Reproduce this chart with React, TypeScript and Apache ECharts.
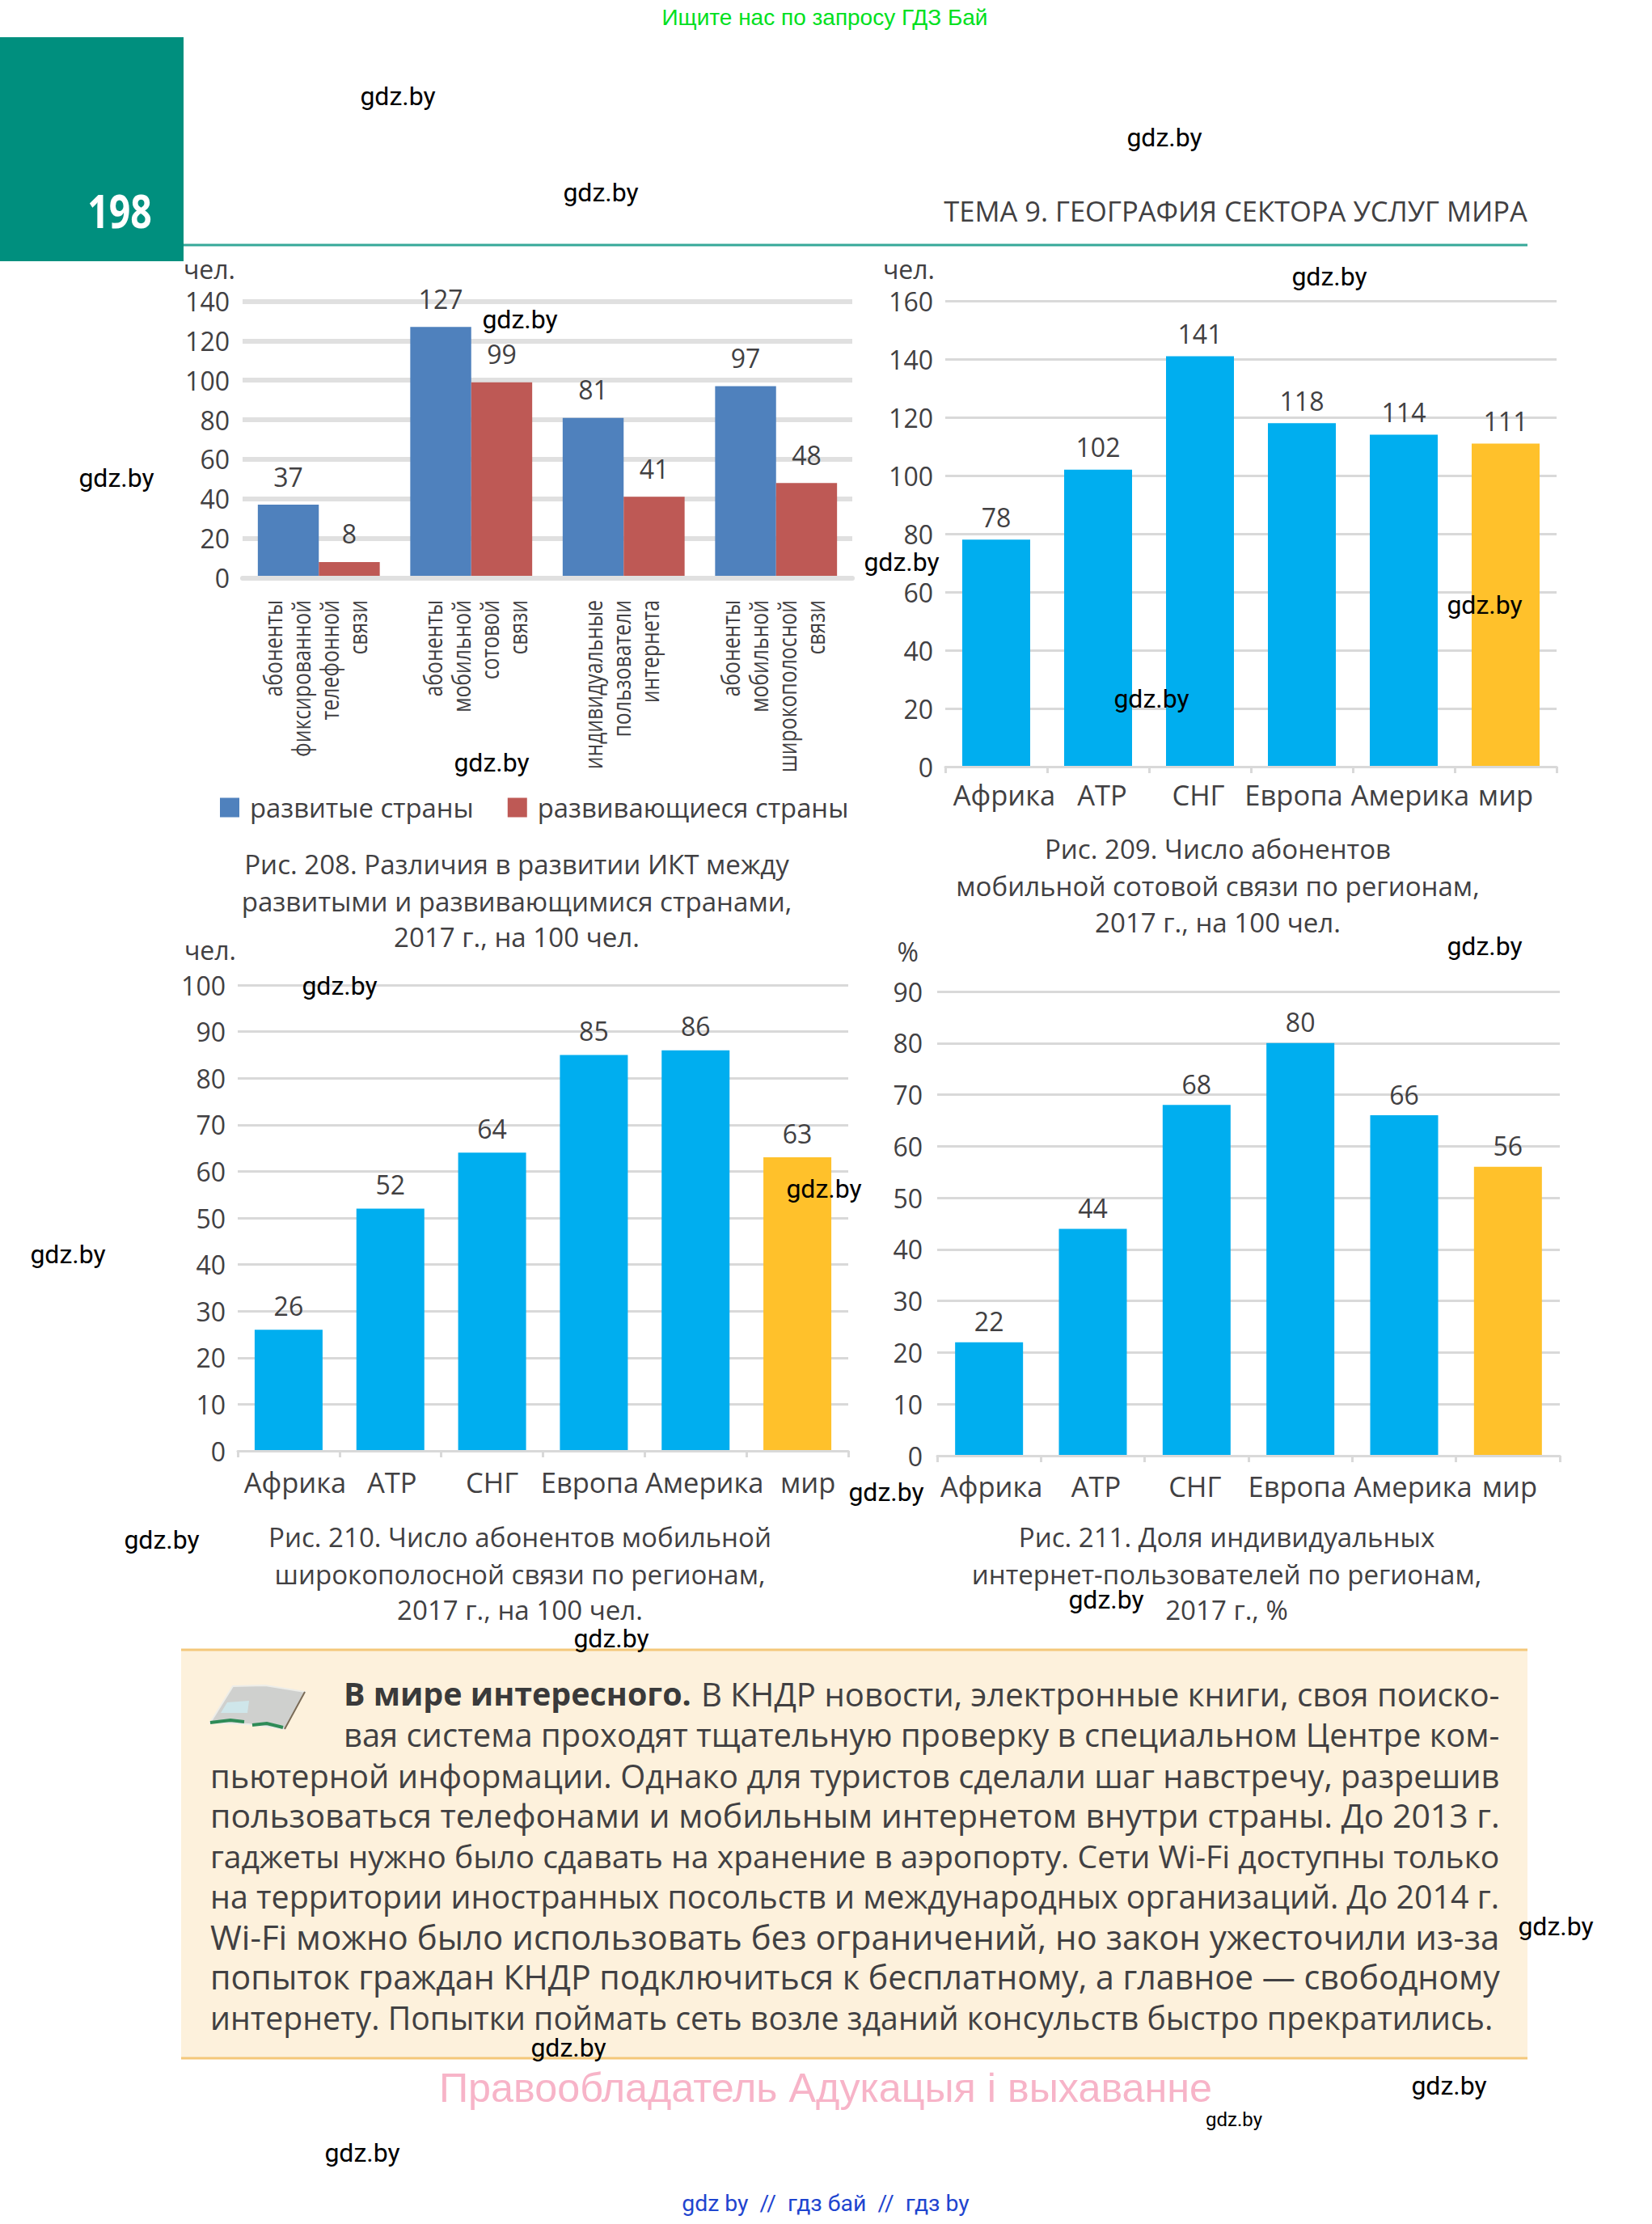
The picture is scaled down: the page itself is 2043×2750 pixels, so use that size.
import React, { useEffect, useRef } from "react";
import * as echarts from "echarts";

const FONT = "'Open Sans', sans-serif";
const INK = "#414042";
const ARIAL = "'Liberation Sans', sans-serif";
const ROBOTO = "'Roboto', sans-serif";

const ictCategories = [
  "абоненты\nфиксированной\nтелефонной\nсвязи",
  "абоненты\nмобильной\nсотовой\nсвязи",
  "индивидуальные\nпользователи\nинтернета",
  "абоненты\nмобильной\nширокополосной\nсвязи",
];
const developedValues = [37, 127, 81, 97];
const developingValues = [8, 99, 41, 48];
const regions = ["Африка", "АТР", "СНГ", "Европа", "Америка", "мир"];
const cellularValues = [78, 102, 141, 118, 114, 111];
const broadbandValues = [26, 52, 64, 85, 86, 63];
const internetValues = [22, 44, 68, 80, 66, 56];

const captions208 = ["Рис. 208. Различия в развитии ИКТ между", "развитыми и развивающимися странами,", "2017 г., на 100 чел."];
const captions209 = ["Рис. 209. Число абонентов", "мобильной сотовой связи по регионам,", "2017 г., на 100 чел."];
const captions210 = ["Рис. 210. Число абонентов мобильной", "широкополосной связи по регионам,", "2017 г., на 100 чел."];
const captions211 = ["Рис. 211. Доля индивидуальных", "интернет-пользователей по регионам,", "2017 г., %"];

const bodyLines = [
  "вая система проходят тщательную проверку в специальном Центре ком-",
  "пьютерной информации. Однако для туристов сделали шаг навстречу, разрешив",
  "пользоваться телефонами и мобильным интернетом внутри страны. До 2013 г.",
  "гаджеты нужно было сдавать на хранение в аэропорту. Сети Wi-Fi доступны только",
  "на территории иностранных посольств и международных организаций. До 2014 г.",
  "Wi-Fi можно было использовать без ограничений, но закон ужесточили из-за",
  "попыток граждан КНДР подключиться к бесплатному, а главное — свободному",
  "интернету. Попытки поймать сеть возле зданий консульств быстро прекратились.",
];

const watermarks: [number, number][] = [
  [492, 119], [1440, 170], [743, 238], [1644, 342], [643, 395], [144, 591], [1115, 695], [1836, 748],
  [1424, 864], [608, 943], [1836, 1170], [420, 1219], [1019, 1470], [84, 1551], [1096, 1845], [200, 1904],
  [1368, 1978], [756, 2026], [1924, 2382], [703, 2532], [1792, 2579], [448, 2662],
];

function fitSize(text: string, width: number, weight = "400") {
  const ctx = document.createElement("canvas").getContext("2d")!;
  ctx.font = `${weight} 100px 'Open Sans', sans-serif`;
  return (100 * width) / ctx.measureText(text).width;
}

function label(text: string, x: number, y: number, fontSize: number, extra: any = {}, el: any = {}) {
  return {
    type: "text", x, y, z: 20, ...el,
    style: { text, fontSize, fontFamily: FONT, fill: INK, align: "center", verticalAlign: "middle", ...extra },
  };
}

function regionSeries(values: number[], gridIndex: number, distance: number) {
  return {
    type: "bar",
    xAxisIndex: gridIndex,
    yAxisIndex: gridIndex,
    barWidth: 84,
    data: values.map((value, i) => ({
      value,
      itemStyle: { color: i === values.length - 1 ? "#FFC12B" : "#00AEEF" },
    })),
    label: { show: true, position: "top", distance, fontSize: 32, fontFamily: FONT, color: INK },
  };
}

function yAxisFor(gridIndex: number, max: number, interval: number, name: string, width: number, margin: number, nameGap: number, namePad: number) {
  return {
    type: "value", gridIndex, min: 0, max, interval,
    name,
    nameLocation: "end",
    nameGap,
    nameTextStyle: { fontSize: 32, fontFamily: FONT, color: INK, align: "right", padding: [0, namePad, 0, 0] },
    axisLine: { show: false },
    axisTick: { show: false },
    axisLabel: { margin, fontSize: 32, fontFamily: FONT, color: INK },
    splitLine: { show: true, lineStyle: { color: width > 3 ? "#E0E0E0" : "#D9D9D9", width } },
  };
}

function regionAxis(gridIndex: number, margin: number, shifts: number[]) {
  const rich: any = {};
  shifts.forEach((s, i) => {
    rich["s" + i] = {
      fontSize: 34.5, fontFamily: FONT, color: INK,
      padding: s > 0 ? [0, 0, 0, 2 * s] : [0, -2 * s, 0, 0],
    };
  });
  return {
    type: "category", gridIndex, data: regions, z: 3,
    axisLine: { show: true, lineStyle: { color: "#D9D9D9", width: 3 } },
    axisTick: { show: true, length: 8, lineStyle: { color: "#D9D9D9", width: 3 } },
    axisLabel: {
      margin, interval: 0, hideOverlap: false, rich,
      formatter: (value: string, i: number) => `{s${i}|${value}}`,
    },
  };
}

function buildGraphic() {
  const g: any[] = [];
  // page furniture
  g.push({ type: "rect", shape: { x: 0, y: 46, width: 227, height: 277 }, style: { fill: "#008F7E" }, z: 10 });
  g.push({ type: "line", shape: { x1: 227, y1: 303, x2: 1889, y2: 303 }, style: { stroke: "#36A899", lineWidth: 3 }, z: 10 });
  g.push(label("198", 148, 259, 58, { fill: "#FFFFFF", fontWeight: "bold" }, { originX: 0, scaleX: 0.8 }));
  g.push(label("ТЕМА 9. ГЕОГРАФИЯ СЕКТОРА УСЛУГ МИРА", 1528, 260, fitSize("ТЕМА 9. ГЕОГРАФИЯ СЕКТОРА УСЛУГ МИРА", 722)));
  g.push(label("Ищите нас по запросу ГДЗ Бай", 1020, 21, 28, { fill: "#00E01E", fontFamily: ARIAL }));

  // rotated category labels of the first chart, condensed as in the reference
  const centers = [389.5, 587, 768, 955];
  ictCategories.forEach((cat, c) => {
    const lines = cat.split("\n");
    lines.forEach((t, i) => {
      g.push(label(t, centers[c] + (i - (lines.length - 1) / 2) * 35, 742, 31, { align: "right" }, { rotation: Math.PI / 2, scaleX: 0.8 }));
    });
  });

  // captions
  const caps: [string[], number, number[]][] = [
    [captions208, 639, [1068, 1114, 1158]],
    [captions209, 1506, [1049, 1095, 1140]],
    [captions210, 643, [1900, 1946, 1990]],
    [captions211, 1517, [1900, 1946, 1990]],
  ];
  caps.forEach(([lines, x, ys]) => lines.forEach((t, i) => g.push(label(t, x, ys[i], 33.1))));

  // infobox
  g.push({ type: "rect", shape: { x: 224, y: 2040, width: 1665, height: 505 }, style: { fill: "#FDF1DC" }, z: 10 });
  g.push({ type: "line", shape: { x1: 224, y1: 2040, x2: 1889, y2: 2040 }, style: { stroke: "#F4C87A", lineWidth: 3 }, z: 11 });
  g.push({ type: "line", shape: { x1: 224, y1: 2545, x2: 1889, y2: 2545 }, style: { stroke: "#F4C87A", lineWidth: 3 }, z: 11 });

  // book icon
  g.push({ type: "polygon", shape: { points: [[260, 2130], [288, 2085], [328, 2084], [377, 2092], [352, 2138], [307, 2132]] }, style: { fill: "#CFD0CE", stroke: "#EDEDE8", lineWidth: 2 }, z: 12 });
  g.push({ type: "polygon", shape: { points: [[273, 2118], [281, 2105], [308, 2103], [306, 2118]] }, style: { fill: "#CFE6EA" }, z: 12 });
  g.push({ type: "line", shape: { x1: 377, y1: 2092, x2: 352, y2: 2138 }, style: { stroke: "#7A6A55", lineWidth: 2 }, z: 12 });
  g.push({ type: "polyline", shape: { points: [[260, 2130], [285, 2127], [302, 2129]] }, style: { stroke: "#2E8B57", lineWidth: 4, fill: "none" }, z: 12 });
  g.push({ type: "polyline", shape: { points: [[312, 2133], [330, 2131], [350, 2136]] }, style: { stroke: "#2E8B57", lineWidth: 4, fill: "none" }, z: 12 });

  const headBold = "В мире интересного.";
  const headRest = "В КНДР новости, электронные книги, своя поиско-";
  g.push({ type: "text", x: 425, y: 2094, z: 20, style: { text: headBold, fontSize: fitSize(headBold, 430, "700"), fontWeight: 700, fontFamily: FONT, fill: "#3A3A3A", align: "left", verticalAlign: "middle" } });
  g.push({ type: "text", x: 867, y: 2094, z: 20, style: { text: headRest, fontSize: fitSize(headRest, 988), fontFamily: FONT, fill: INK, align: "left", verticalAlign: "middle" } });
  const xs = [425, 260, 260, 260, 260, 260, 260, 260];
  const ys = [2144, 2195, 2244, 2294, 2345, 2394, 2444, 2494];
  bodyLines.forEach((t, i) => {
    const w = (i === 7 ? 1847 : 1855) - xs[i];
    g.push({ type: "text", x: xs[i], y: ys[i], z: 20, style: { text: t, fontSize: fitSize(t, w), fontFamily: FONT, fill: INK, align: "left", verticalAlign: "middle" } });
  });

  // footer
  g.push(label("Правообладатель Адукацыя і выхаванне", 1021, 2581, 50.3, { fill: "#F7B4C8", fontFamily: ARIAL }));
  g.push(label("gdz by  //  гдз бай  //  гдз by", 1021, 2724, 28.4, { fill: "#1F45CF", fontFamily: ROBOTO }));

  // watermarks
  watermarks.forEach(([x, y]) => g.push(label("gdz.by", x, y, 32, { fill: "#000000", fontFamily: ROBOTO })));
  g.push(label("gdz.by", 1526, 2621, 24, { fill: "#000000", fontFamily: ROBOTO }));
  return g;
}

export default function App() {
  const ref = useRef<HTMLDivElement>(null);
  useEffect(() => {
    document.body.style.margin = "0";
    const chart = echarts.init(ref.current!, undefined, { renderer: "svg" });
    const barLabel = { show: true, position: "top", distance: 19, fontSize: 32, fontFamily: FONT, color: INK };
    chart.setOption({
      animation: false,
      backgroundColor: "#FFFFFF",
      textStyle: { fontFamily: FONT },
      grid: [
        { left: 300, width: 754, top: 372.5, height: 342 },
        { left: 1169, width: 756, top: 372, height: 576 },
        { left: 294, width: 755, top: 1218, height: 576 },
        { left: 1159, width: 770, top: 1226, height: 574 },
      ],
      xAxis: [
        {
          type: "category", gridIndex: 0, data: ictCategories, z: 3,
          axisLine: { show: true, lineStyle: { color: "#E0E0E0", width: 6 } },
          axisTick: { show: false },
          axisLabel: { show: false },
        },
        regionAxis(1, 17, [10, 5, -2, -10, 8, 0]),
        regionAxis(2, 21, [8, 2, 0, -5, 11, 13]),
        regionAxis(3, 20, [3, 4, -2, -4, 11, 2]),
      ],
      yAxis: [
        yAxisFor(0, 140, 20, "чел.", 6, 16, 24, 9),
        yAxisFor(1, 160, 20, "чел.", 3, 15, 24, 13),
        yAxisFor(2, 100, 10, "чел.", 3, 15, 28, 2),
        yAxisFor(3, 90, 10, "%", 3, 18, 34, 23),
      ],
      legend: {
        left: 267, top: 977, itemWidth: 24, itemHeight: 24, itemGap: 42, icon: "rect",
        data: ["развитые страны", "развивающиеся страны"],
        textStyle: { fontSize: 32.8, fontFamily: FONT, color: INK, padding: [0, 0, 0, 8] },
      },
      series: [
        {
          name: "развитые страны", type: "bar", xAxisIndex: 0, yAxisIndex: 0,
          barCategoryGap: "20%", barGap: 0, data: developedValues,
          itemStyle: { color: "#4F81BD" }, label: barLabel,
        },
        {
          name: "развивающиеся страны", type: "bar", xAxisIndex: 0, yAxisIndex: 0,
          data: developingValues,
          itemStyle: { color: "#BE5955" }, label: barLabel,
        },
        regionSeries(cellularValues, 1, 12),
        regionSeries(broadbandValues, 2, 14),
        regionSeries(internetValues, 3, 10),
      ],
      graphic: buildGraphic(),
    });
    return () => chart.dispose();
  }, []);
  return <div ref={ref} style={{ position: "absolute", left: 0, top: 0, width: 2043, height: 2750 }} />;
}
